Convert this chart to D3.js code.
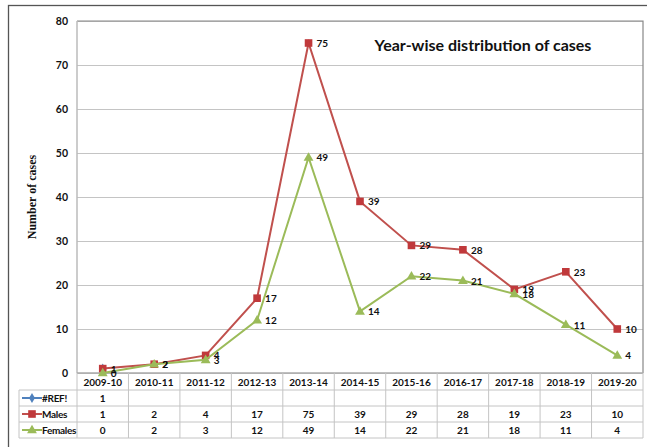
<!DOCTYPE html>
<html><head><meta charset="utf-8">
<script src="https://cdn.jsdelivr.net/npm/d3@7"></script>
<style>
html,body{margin:0;padding:0;background:#fff;overflow:hidden;}
svg{display:block;}
text{font-family:Lato,"Open Sans",sans-serif;font-weight:bold;fill:#111;}
</style></head>
<body>
<script>
const categories = ["2009-10","2010-11","2011-12","2012-13","2013-14","2014-15","2015-16","2016-17","2017-18","2018-19","2019-20"];
const refValues = [1,null,null,null,null,null,null,null,null,null,null];
const males = [1,2,4,17,75,39,29,28,19,23,10];
const females = [0,2,3,12,49,14,22,21,18,11,4];
const yTicks = [0,10,20,30,40,50,60,70,80];
const seriesNames = ["#REF!","Males","Females"];
const title = "Year-wise distribution of cases";
const yTitle = "Number of cases";

const W = 647, H = 447;
const colors = {"#REF!":"#4F81BD","Males":"#C0504D","Females":"#9BBB59"};
const markerFill = {"#REF!":"#4F81BD","Males":"#C0393B","Females":"#9BBB59"};
const pL = 77, pR = 643, pT = 21, pB = 373;

const svg = d3.select("body").append("svg").attr("width",W).attr("height",H);

svg.append("rect").attr("x",8.5).attr("y",5.5).attr("width",700).attr("height",500)
  .attr("fill","none").attr("stroke","#555").attr("stroke-width",1.3);

const x = d3.scaleBand().domain(categories).range([pL,pR]);
const y = d3.scaleLinear().domain([0,80]).range([pB,pT]);

const grid = svg.append("g").attr("transform",`translate(${pL},0)`)
  .call(d3.axisLeft(y).tickValues(yTicks).tickSize(-(pR-pL)).tickFormat(""));
grid.select(".domain").remove();
grid.selectAll("line").attr("stroke","#c4c4c4").attr("stroke-width",1.2);

svg.append("path").attr("d",`M${pL},${pT}H${pR}V${pB}`).attr("fill","none").attr("stroke","#888").attr("stroke-width",1.2);
svg.append("line").attr("x1",pL).attr("x2",pL).attr("y1",pT).attr("y2",pB).attr("stroke","#bbb").attr("stroke-width",1.5);

const ya = svg.append("g").attr("transform",`translate(${pL},0)`)
  .call(d3.axisLeft(y).tickValues(yTicks).tickSize(0).tickPadding(9));
ya.select(".domain").remove();
ya.selectAll("text").style("font-size","10.5px").style("font-family","Lato,sans-serif").style("font-weight","bold").attr("fill","#111");

svg.append("text").attr("transform",`translate(36,${(pT+pB)/2}) rotate(-90)`)
  .attr("text-anchor","middle").style("font-family","'Liberation Serif',serif").style("font-size","12px").text(yTitle);

svg.append("text").attr("x",483).attr("y",51).attr("text-anchor","middle").style("font-size","16px").text(title);

const rowY = [373,390,406,422,438];
const tg = svg.append("g");
const tableStroke = "#c4c4c4";
tg.append("line").attr("x1",pL).attr("x2",pR).attr("y1",rowY[0]).attr("y2",rowY[0]).attr("stroke","#aaa").attr("stroke-width",1.5);
rowY.slice(1).forEach(ry=>{
  tg.append("line").attr("x1",19).attr("x2",pR).attr("y1",ry).attr("y2",ry).attr("stroke",tableStroke);
});
categories.forEach((c,i)=>{
  tg.append("line").attr("x1",x(c)).attr("x2",x(c)).attr("y1",rowY[0]).attr("y2",rowY[4]).attr("stroke",tableStroke);
});
tg.append("line").attr("x1",pR).attr("x2",pR).attr("y1",rowY[0]).attr("y2",rowY[4]).attr("stroke",tableStroke);
tg.append("line").attr("x1",19).attr("x2",19).attr("y1",rowY[1]).attr("y2",rowY[4]).attr("stroke",tableStroke);

tg.selectAll(".hdr").data(categories).join("text")
  .attr("x",d=>x(d)+x.bandwidth()/2).attr("y",(rowY[0]+rowY[1])/2+4)
  .attr("text-anchor","middle").style("font-size","10px").text(d=>d);

const seriesData = {"#REF!":refValues,"Males":males,"Females":females};

function marker(g, name, cx, cy){
  if(name==="Males"){
    g.append("rect").attr("x",cx-3.8).attr("y",cy-3.8).attr("width",7.6).attr("height",7.6).attr("fill",markerFill[name]);
  } else if(name==="Females"){
    g.append("path").attr("d",d3.symbol(d3.symbolTriangle,42)()).attr("transform",`translate(${cx},${cy+0.5})`).attr("fill",markerFill[name]);
  } else {
    g.append("path").attr("d",d3.symbol(d3.symbolDiamond,30)()).attr("transform",`translate(${cx},${cy})`).attr("fill",markerFill[name]);
  }
}

seriesNames.forEach((name,r)=>{
  const vals = seriesData[name];
  const cy = (rowY[r+1]+rowY[r+2])/2;
  tg.selectAll(".v"+r).data(categories).join("text")
    .attr("x",d=>x(d)+x.bandwidth()/2).attr("y",cy+4).attr("text-anchor","middle").style("font-size","10px")
    .text((d,i)=>vals[i]===null?"":vals[i]);
  tg.append("line").attr("x1",22).attr("x2",42).attr("y1",cy).attr("y2",cy).attr("stroke",colors[name]).attr("stroke-width",2);
  marker(tg,name,32,cy);
  tg.append("text").attr("x",42).attr("y",cy+4).style("font-size","10px").style("letter-spacing","-0.3px").text(name);
});

const cx = d=>x(d)+x.bandwidth()/2;
seriesNames.forEach(name=>{
  const vals = seriesData[name];
  const pts = categories.map((c,i)=>({c,v:vals[i]})).filter(p=>p.v!==null);
  const line = d3.line().x(p=>cx(p.c)).y(p=>y(p.v));
  const g = svg.append("g");
  if(pts.length>1) g.append("path").attr("d",line(pts)).attr("fill","none").attr("stroke",colors[name]).attr("stroke-width",2);
  pts.forEach(p=>marker(g,name,cx(p.c),y(p.v)));
});
["Males","Females"].forEach(name=>{
  const vals = seriesData[name];
  svg.append("g").selectAll("text").data(categories).join("text")
    .attr("x",d=>cx(d)+8).attr("y",(d,i)=>y(vals[i])+4)
    .style("font-size","10px").text((d,i)=>vals[i]);
});
</script>
</body></html>
